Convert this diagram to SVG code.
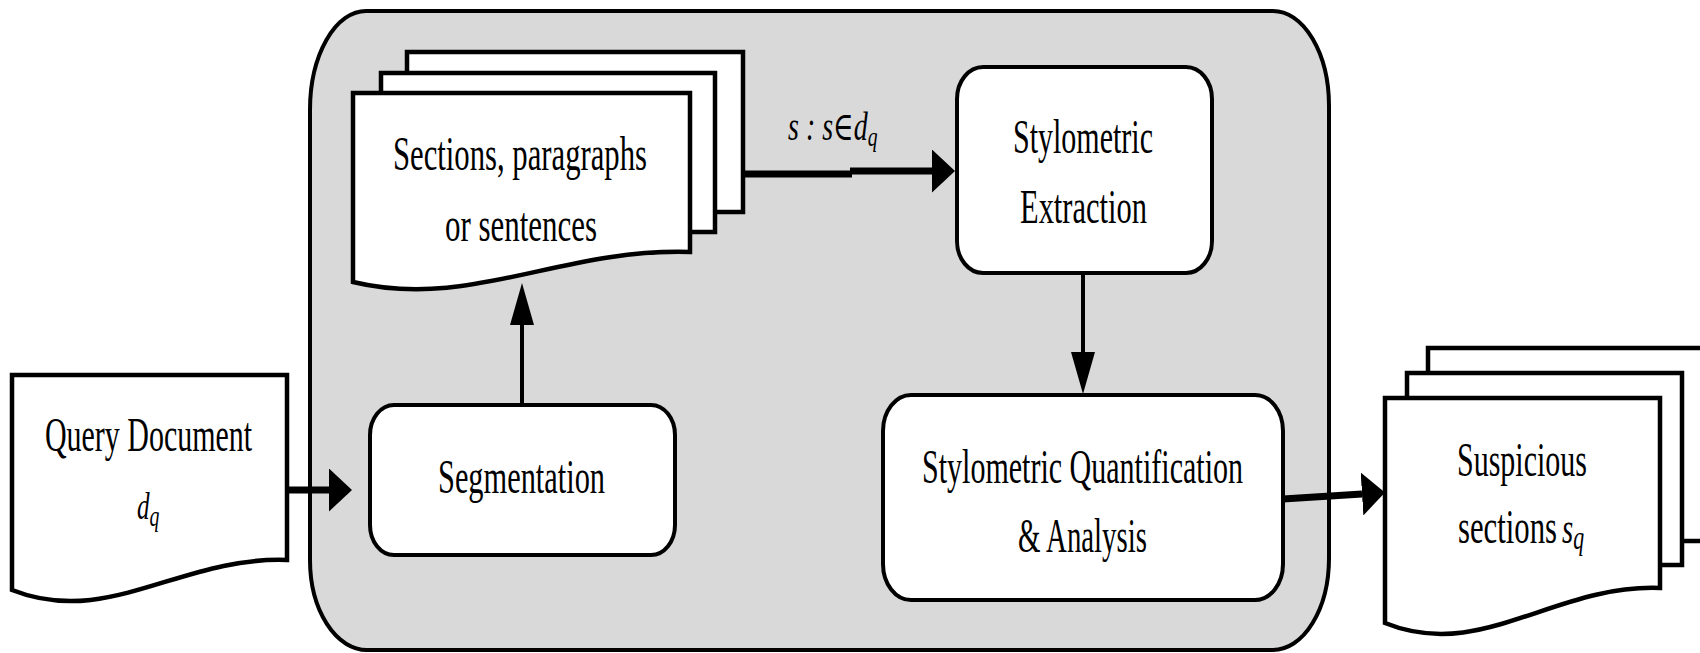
<svg xmlns="http://www.w3.org/2000/svg" width="1700" height="653" viewBox="0 0 1700 653">
  <style>
    .sheet { fill: #ffffff; stroke: #000000; stroke-width: 4.5; stroke-linejoin: miter; }
    .box { fill: #ffffff; stroke: #000000; stroke-width: 4; }
    .panel { fill: #d9d9d9; stroke: #000000; stroke-width: 4; }
    .lbl { font-family: "Liberation Serif", "Times New Roman", serif; font-size: 48px; fill: #000000; }
    .math { font-family: "Liberation Serif", "DejaVu Serif", serif; font-style: italic; fill: #000000; }
    .wire { fill: none; stroke: #000000; stroke-linecap: butt; }
    .thick { stroke-width: 7; }
    .thin { stroke-width: 4; }
  </style>
  <defs>
    <!-- heads for horizontal links (short and wide) -->
    <marker id="head-h" markerUnits="userSpaceOnUse" viewBox="0 0 23 43" markerWidth="23" markerHeight="43" refX="0" refY="21.5" orient="auto">
      <path d="M0,0 L23,21.5 L0,43 Z" fill="#000000"/>
    </marker>
    <!-- heads for vertical links (long and narrow) -->
    <marker id="head-v" markerUnits="userSpaceOnUse" viewBox="0 0 42 24" markerWidth="42" markerHeight="24" refX="0" refY="12" orient="auto">
      <path d="M0,0 L42,12 L0,24 Z" fill="#000000"/>
    </marker>
  </defs>

  <!-- processing pipeline panel -->
  <g id="pipeline">
    <path class="panel" d="M366,11 H1273 A56,95 0 0 1 1329,106 V558 A56,92 0 0 1 1273,650 H367 A57,90 0 0 1 310,560 V110 A56,99 0 0 1 366,11 Z"/>
  </g>

  <!-- input document -->
  <g id="query-document">
    <path class="sheet" d="M12,375 H287 V560 C181,556 108,628 12,590 Z"/>
    <text class="lbl" x="45" y="451" font-size="57" textLength="207" lengthAdjust="spacingAndGlyphs">Query Document</text>
    <text class="math" transform="translate(137,519) scale(0.66,1)" font-size="38">d<tspan font-size="30" dy="7">q</tspan></text>
  </g>

  <!-- segmented text units -->
  <g id="sections-stack">
    <rect class="sheet" x="407" y="52" width="336" height="160"/>
    <rect class="sheet" x="381" y="73" width="334" height="159"/>
    <path class="sheet" d="M353,93 H690 V252 C560,248 470,310 353,282 Z"/>
    <text class="lbl" x="393" y="170" textLength="254" lengthAdjust="spacingAndGlyphs">Sections, paragraphs</text>
    <text class="lbl" x="445" y="241" textLength="152" lengthAdjust="spacingAndGlyphs">or sentences</text>
  </g>

  <g id="segmentation">
    <rect class="box" x="370" y="405" width="305" height="150" rx="24" ry="30"/>
    <text class="lbl" x="438" y="493" textLength="167" lengthAdjust="spacingAndGlyphs">Segmentation</text>
  </g>

  <g id="stylometric-extraction">
    <rect class="box" x="957" y="67" width="255" height="206" rx="26" ry="32"/>
    <text class="lbl" x="1013" y="153" textLength="140" lengthAdjust="spacingAndGlyphs">Stylometric</text>
    <text class="lbl" x="1020" y="223" textLength="127" lengthAdjust="spacingAndGlyphs">Extraction</text>
  </g>

  <g id="quantification-analysis">
    <rect class="box" x="883" y="395" width="400" height="205" rx="28" ry="36"/>
    <text class="lbl" x="922" y="483" textLength="321" lengthAdjust="spacingAndGlyphs">Stylometric Quantification</text>
    <text class="lbl" x="1018" y="552" textLength="129" lengthAdjust="spacingAndGlyphs">&amp; Analysis</text>
  </g>

  <!-- output documents -->
  <g id="suspicious-sections">
    <rect class="sheet" x="1428" y="348" width="300" height="193"/>
    <rect class="sheet" x="1407" y="373" width="275" height="192"/>
    <path class="sheet" d="M1385,398 H1660 V588 C1554,584 1481,662 1385,623 Z"/>
    <text class="lbl" x="1457" y="476" font-size="45" textLength="130" lengthAdjust="spacingAndGlyphs">Suspicious</text>
    <text class="lbl" transform="translate(1458,543) scale(0.64,1)" font-size="45">sections <tspan class="math" font-size="45" dx="-4">s</tspan><tspan class="math" font-size="34" dy="6">q</tspan></text>
  </g>

  <!-- connectors -->
  <g id="connectors">
    <path class="wire thick" d="M287,490 H329" marker-end="url(#head-h)"/>
    <path class="wire thin" d="M522,405 V325" marker-end="url(#head-v)"/>
    <path class="wire thick" d="M743,174 H852 M850,171 H932" marker-end="url(#head-h)"/>
    <path class="wire thin" d="M1083,273 V352" marker-end="url(#head-v)"/>
    <path class="wire thick" d="M1283,499 L1362,494" marker-end="url(#head-h)"/>
    <text class="math" transform="translate(788,140) scale(0.7,1)" font-size="40">s : s∈d<tspan font-size="28" dy="6">q</tspan></text>
  </g>
</svg>
